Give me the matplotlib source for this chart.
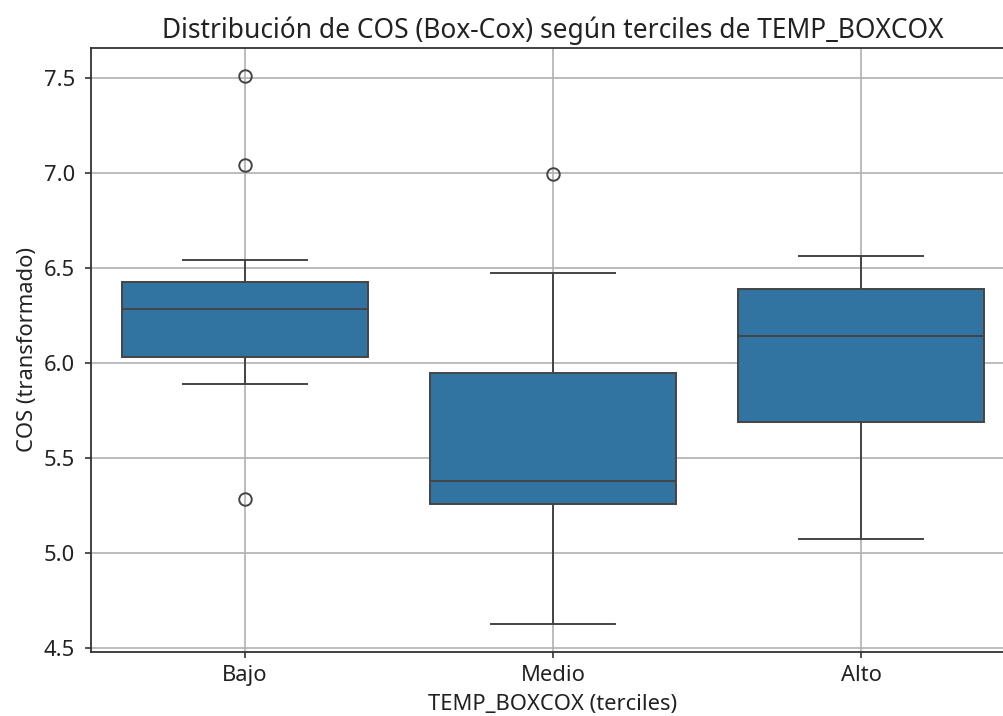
import matplotlib
matplotlib.use("Agg")
import matplotlib.pyplot as plt

# valores
grupos = ["Bajo", "Medio", "Alto"]
q1 = [6.035, 5.258, 5.691]
medianas = [6.287, 5.382, 6.145]
q3 = [6.429, 5.951, 6.389]
bigote_inf = [5.893, 4.630, 5.077]
bigote_sup = [6.545, 6.475, 6.563]
atipicos = [[7.51, 7.044, 5.287], [6.996], []]

escala = 1.58
lw = 1.4
plt.rcParams["font.family"] = ["Noto Sans", "DejaVu Sans"]

fig = plt.figure(figsize=(10.04, 7.16), dpi=100)
ax = fig.add_axes([0.0906, 0.0898, 0.9203, 0.8432])

stats = []
for i, g in enumerate(grupos):
    stats.append({
        "label": g,
        "q1": q1[i],
        "med": medianas[i],
        "q3": q3[i],
        "whislo": bigote_inf[i],
        "whishi": bigote_sup[i],
        "fliers": atipicos[i],
    })

linea = "#444444"
ax.bxp(
    stats,
    positions=range(len(grupos)),
    widths=0.8,
    patch_artist=True,
    boxprops=dict(facecolor="#3274a1", edgecolor=linea, linewidth=lw),
    medianprops=dict(color=linea, linewidth=lw),
    whiskerprops=dict(color=linea, linewidth=lw),
    capprops=dict(color=linea, linewidth=lw),
    capwidths=0.4,
    flierprops=dict(marker="o", markerfacecolor="none", markeredgecolor=linea,
                    markersize=9, markeredgewidth=lw),
    zorder=3,
)

ax.set_xlim(-0.5, 2.5)
ax.set_ylim(4.482, 7.659)
ax.set_yticks([4.5, 5.0, 5.5, 6.0, 6.5, 7.0, 7.5])
ax.set_xticks(range(len(grupos)))
ax.set_xticklabels(grupos)
ax.grid(True, color="#b0b0b0", linewidth=1.2, zorder=0)
ax.set_axisbelow(True)

for s in ax.spines.values():
    s.set_linewidth(1.3)
    s.set_color("#333333")
ax.tick_params(labelsize=10 * escala, width=1.2, length=4.5, pad=7,
               color="#333333", labelcolor="#222222")
ax.tick_params(axis="x", pad=5)

ax.set_title("Distribución de COS (Box-Cox) según terciles de TEMP_BOXCOX",
             fontsize=12 * escala, pad=7, color="#222222")
ax.set_xlabel("TEMP_BOXCOX (terciles)", fontsize=10 * escala, color="#222222",
              labelpad=6)
ax.set_ylabel("COS (transformado)", fontsize=10 * escala, color="#222222",
              labelpad=4)

fig.savefig("out.png", dpi=100)
